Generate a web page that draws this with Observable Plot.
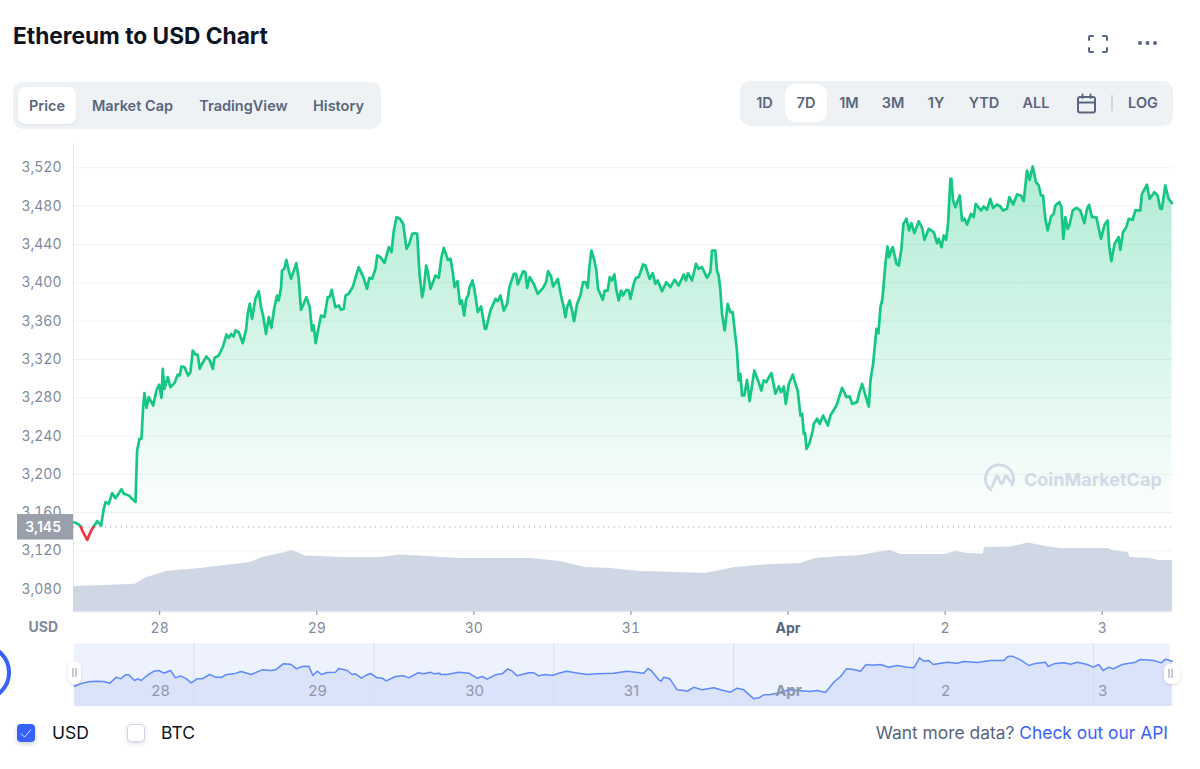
<!DOCTYPE html>
<html>
<head>
<meta charset="utf-8">
<script src="https://cdn.jsdelivr.net/npm/d3@7"></script>
<script src="https://cdn.jsdelivr.net/npm/@observablehq/plot@0.6"></script>
<style>
  html,body{margin:0;padding:0;background:#fff;font-family:Inter,"Noto Sans",sans-serif;}
  #page{position:relative;width:1200px;height:769px;overflow:hidden;}
  .abs{position:absolute;}
  .lbl{position:absolute;transform:translate(-50%,-50%);font-size:14.5px;font-weight:600;color:#58667e;white-space:nowrap;}
  svg{font-family:Inter,"Noto Sans",sans-serif;}
</style>
</head>
<body>
<div id="page"></div>
<script>
// ---------- data (hours after 27 Mar 2022 00:00 UTC) ----------
const priceHours = [10.88,11.64,12.0,12.15,12.92,13.53,13.87,14.44,15.05,15.46,15.72,16.22,16.73,17.24,18.16,18.51,19.28,20.3,20.55,20.91,21.21,21.47,21.67,21.98,22.33,23,23.5,23.91,24.27,24.47,24.72,25.23,25.64,26.25,26.76,27.07,27.32,27.78,28.34,28.7,29.05,29.46,29.81,30.12,30.48,31.14,31.65,32.11,32.36,33.02,33.68,34.19,34.55,34.91,35.31,35.57,36.08,36.69,37.2,37.45,37.76,38.11,38.62,39.13,39.49,39.79,40.25,40.66,41.06,41.52,41.93,42.18,42.54,42.69,43.05,43.35,43.71,44.07,44.88,45.24,45.59,46,46.41,46.92,47.27,47.53,47.83,48.29,48.65,49.16,49.67,49.97,50.28,50.84,51.35,51.7,52.11,52.41,52.87,53.53,53.89,54.4,54.75,55.16,55.67,56.03,
56.46,56.97,57.23,57.74,58.35,59.01,59.42,59.77,60.18,60.69,61.2,61.71,62.12,62.58,63.08,63.34,63.69,64.1,64.35,64.71,64.97,65.37,66.14,66.64,67.05,67.41,68.02,68.43,68.78,69.04,69.5,69.86,70.16,70.52,70.82,71.13,71.33,71.79,72.09,72.6,73.11,73.67,73.87,74.53,75.3,75.65,76.06,76.57,77.08,77.43,78.1,78.45,78.71,79.52,79.88,80.13,80.54,81.15,81.76,82.58,83.03,83.34,83.8,84.1,84.82,85.32,85.73,85.98,86.24,86.65,87,87.31,87.77,88.27,88.68,89.04,89.39,89.65,89.95,90.41,90.72,90.97,91.69,92,92.45,92.76,93.11,93.47,93.77,94.13,94.49,94.79,95.3,95.66,95.91,96.42,96.77,97.18,97.85,98.2,98.86,99.32,99.73,100.08,100.75,101.41,102.02,102.68,103.29,104.05,104.41,104.72,105.33,105.94,106.35,106.85,107.62,108.13,108.38,108.89,109.14,109.4,109.65,109.91,110.32,110.78,111.18,111.54,112,112.2,112.46,112.71,112.97,113.32,113.73,114.13,114.85,115.51,115.92,116.27,116.68,117.29,
117.47,118.08,118.59,118.95,119.36,119.66,120.12,120.73,120.98,121.49,121.9,122.16,122.41,122.61,122.82,123.28,123.78,123.94,124.45,124.85,125.36,126.08,126.48,127.4,128.26,128.93,129.43,129.79,130.55,130.91,131.32,131.83,132.34,132.59,133,133.51,133.81,134.12,134.42,134.88,135.19,135.44,135.75,136,136.56,136.92,137.32,137.63,138.09,138.49,138.85,139.31,139.97,140.48,140.84,141.5,142.26,142.77,143.03,143.43,143.79,144.15,144.45,144.81,144.96,145.21,145.57,146.23,146.59,146.94,147.35,147.96,148.37,148.67,149.49,149.9,150.4,150.91,151.32,151.93,152.44,152.85,153.46,153.82,154.38,154.99,155.6,156.01,156.51,156.92,157.38,157.89,158.3,158.65,158.96,159.31,159.67,160.18,160.59,160.84,161.45,161.76,162.06,162.37,162.72,162.98,163.49,164.05,164.66,165.27,165.68,165.98,166.44,167.1,167.81,168.37,168.83,169.08,169.39,169.9,170.51,170.77,171.17,171.68,172.04,172.65,173.06,173.82,174.07,174.84,175.24,175.96,176.47,176.87,177.13,177.64,178.15,178.66];
const prices = [3150.1,3147.6,3145,3141.4,3131.6,3141.4,3145,3151.1,3146.6,3164,3171,3169.2,3180.4,3175.1,3184.5,3179.7,3177.9,3171,3224.9,3237.1,3237.1,3270.1,3284.8,3269.4,3280.6,3271.9,3287.5,3293.5,3279.9,3310.2,3289.3,3301.5,3291,3295.2,3304.2,3303.2,3312.6,3311.9,3303.2,3306.7,3329.3,3325.1,3325.1,3310.2,3315.4,3323,3318.9,3310.2,3321.6,3324.1,3333.5,3346,3342.5,3346.7,3343.9,3350.2,3348.4,3337,3350.9,3367.6,3378,3362.4,3383.2,3391.2,3374.5,3365.8,3346.7,3364.1,3353,3374.5,3386.7,3381.5,3394.7,3412.8,3414.6,3424,3412.8,3404.1,3420.5,3404.1,3371.8,3378,3385,3374.5,3350.2,3355.4,3337,3353.7,3365.8,3364.1,3385,3385,3392.6,3374.5,3376.3,3371.8,3372.8,3386.7,3388.5,3396.1,3405.2,3416.3,3411.1,3405.2,3393.7,3405.2,
3404.1,3414.6,3428.5,3426.7,3420.8,3437.2,3432,3454.6,3468.5,3466.8,3461.5,3435.4,3440.7,3451.1,3451.8,3451.1,3409.3,3385,3393.7,3418,3411.1,3393.7,3407.6,3405.2,3426.7,3436.5,3423.9,3425,3411.1,3395.4,3401.7,3378,3381.5,3365.8,3383.2,3386.7,3394.7,3402.4,3392.6,3369.3,3375.2,3351.9,3351.9,3371,3383.2,3380.8,3386.7,3371,3378,3395.4,3409.3,3409.3,3398.2,3412.1,3411.1,3394.7,3405.9,3398.9,3388.5,3394.7,3400.6,3412.1,3406.6,3396.1,3404.1,3386.7,3374.5,3364.1,3374.5,3381.5,3371,3359.9,3378,3386.7,3400.6,3400.6,3394.7,3416.3,3433.7,3423.3,3412.8,3393.7,3382.2,3391.9,3391.9,3405.9,3402.4,3408.6,3392.6,3381.5,3391.9,3386.7,3392.6,3391.9,3383.2,3398.9,3405.2,3405.9,3419.1,3418,3404.1,3410,3398.9,3402.4,3391.2,3400.6,3395.4,3403.1,3397.2,3408.6,3402.4,3410,3402.4,3419.8,3414.6,3416.3,3405.2,3411.1,3433.7,3433.7,3412.8,3407.6,3393.7,3367.6,3350.2,3378,3369.3,3369.3,3341.5,3329.3,3298,3305,3282.3,3282.3,3298.7,3276.4,3308.4,3296.2,3287.5,3298,3296.2,3304.2,
3305.6,3284.1,3291.7,3285.8,3291.7,3273.6,3294.5,3304.2,3298,3286.8,3261.4,3263.2,3242.3,3243,3226.6,3232.6,3245.8,3252.7,3258,3252.7,3261.4,3251,3261.4,3271.9,3290.3,3280.6,3281.3,3273.6,3275.4,3285.8,3294.5,3282.3,3270.8,3298,3315.4,3351.9,3347.4,3374.5,3383.2,3419.8,3437.9,3426.7,3433.7,3437.2,3419.8,3418,3435.4,3461.5,3466.8,3454.6,3462.2,3451.8,3464.3,3457.4,3444.8,3456.3,3452.8,3441.4,3445.9,3437.2,3449.4,3444.8,3461.5,3508.5,3508.5,3485.9,3478.9,3491.1,3465,3466.8,3460.8,3472,3468.5,3482.4,3475.5,3479.6,3476.2,3487.6,3478.2,3481.7,3479.6,3475.5,3477.2,3489.4,3481.7,3492.2,3491.1,3485.2,3517.2,3507.5,3521.4,3505,3501.6,3491.1,3491.1,3466.8,3454.6,3469.2,3472,3480.7,3484.2,3479.6,3445.9,3468.5,3456.3,3459.8,3475.5,3478.2,3475.5,3462.2,3477.2,3481.4,3468.5,3468.5,3445.9,3460.8,3465,3437.2,3422.6,3440.7,3447.6,3434.4,3452.8,3458,3466.8,3465.7,3475.5,3475.5,3492.9,3502.3,3487.6,3494.6,3491.1,3477.2,3477.2,3501.6,3487.6,3483.1];
const volumeHours = [10.83,15.41,20.3,21.83,25.19,30.23,37.87,39.71,43.22,44.29,46.28,48.57,51.62,57.74,60.79,62.32,69.96,76.07,80.65,85.23,89.05,92.87,97.46,103.57,107.39,111.97,117.32,121.9,124.19,128.01,131.07,134.43,135.65,137.18,144.05,145.58,147.57,149.86,150.01,153.99,156.74,159.33,161.62,168.96,169.57,172,172.3,175.36,176.58,178.74];
const volumesBn = [10,10.4,10.9,13.4,16.1,17.2,19.6,21.6,23.6,24.4,22.2,22,21.6,21.6,22.6,22.4,21.2,21.2,21.2,20,17.6,17.2,16,15.6,15.2,17.6,18.8,19.2,21.2,22,22.4,24,24.4,22.8,22.8,24,23.2,23,25.6,25.8,27.4,26,25.2,25.2,24.4,23.6,21.6,21.2,20.4,20.4];
const navHours = [10.85,11.77,13.04,14.32,15.33,16.25,17.27,17.88,18.65,19.16,20.02,20.53,21.04,21.96,22.98,23.74,24.51,25.53,26.29,27.06,27.97,28.69,29.6,30.37,31.49,32.41,33.43,33.93,35.21,36.33,37.86,39.54,40.81,41.58,42.75,43.87,44.79,45.65,46.68,47.29,47.95,48.61,49.48,50.75,51.26,52.54,53.3,53.81,54.73,55.34,56.1,57.12,57.89,58.5,59.92,61.2,61.96,63.34,64.26,65.28,65.79,66.7,
66.8,67.82,69.6,71.13,72.4,73.17,73.93,75.2,76.23,77.09,77.76,78.52,80.3,81.07,81.83,82.85,83.87,84.89,86.06,87.44,89.22,90.75,93.3,95.34,97.88,98.5,99.01,100.18,100.54,100.94,101.86,102.98,104,104.61,105.53,106.8,108.59,109.6,111.13,112.15,113.17,114.7,115.47,116.23,117.25,118.27,120.05,121.33,
123.36,124.38,125.65,126.93,127.95,128.86,129.98,131,131.87,132.79,134.06,135.33,136.61,138.14,139.16,139.67,140.02,140.69,141.45,142.11,144.25,145.78,146.8,148.84,150.88,152.92,153.53,154.19,155.46,156.74,157.5,159.29,159.69,160.56,162.09,163.11,164.13,165.66,166.57,167.44,168.1,168.97,169.63,171.01,173.04,173.81,175.85,176.97,177.63,178.65];
const navPrices = [3101.6,3113.3,3123.3,3126.6,3125,3116.6,3146.6,3138.3,3158.3,3158.3,3130,3138.3,3130,3155,3176.6,3180,3166.6,3180,3143.3,3153.3,3138.3,3118.3,3138.3,3138.3,3160,3146.6,3146.6,3158.3,3163.3,3175,3160,3183.3,3180,3183.3,3213.3,3211.6,3188.3,3200,3201.6,3155,3176.6,3160,3170,3171.6,3190,3180,3160,3163.3,3141.6,3155,3165,3143.3,3141.6,3128.3,3150,3153.3,3143.3,3168.3,3163.3,3171.6,3163.3,3166.6,
3160,3160,3171.6,3166.6,3141.6,3150,3136.6,3158.3,3163.3,3188.3,3176.6,3153.3,3168.3,3168.3,3153.3,3160,3155,3166.6,3176.6,3168.3,3160,3163.3,3166.6,3176.6,3166.6,3190,3180,3133.3,3126.6,3146.6,3138.3,3083.3,3080,3076.6,3096.6,3083.3,3093.3,3083.3,3071.6,3091.6,3083.3,3038.3,3043.3,3058.3,3060,3066.6,3083.3,3080,
3075,3080,3070,3121.6,3150,3188.3,3185,3176.6,3210,3206.6,3210,3196.6,3205,3196.6,3193.3,3221.6,3243.3,3226.6,3230,3210,3221.6,3216.6,3225,3220,3230,3230,3250,3251.6,3233.3,3205,3213.3,3221.6,3200,3213.3,3218.3,3211.6,3221.6,3210,3196.6,3210,3180,3196.6,3188.3,3210,3221.6,3235,3230,3218.3,3236.6,3226.6];
const navGridHours = [29.12,56.62,84.12,111.62,139.12,166.62];
const yTicks = [3080,3120,3160,3200,3240,3280,3320,3360,3400,3440,3480,3520];
const dayHours = [24,48,72,96,120,144,168];
const dayLabels = ["28","29","30","31","Apr","2","3"];
const openPrice = 3145;
const tabs = ["Price","Market Cap","TradingView","History"];
const ranges = ["1D","7D","1M","3M","1Y","YTD","ALL"];

// ---------- helpers ----------
const T0 = Date.UTC(2022,2,27);
const t = h => new Date(T0 + h*36e5);
const priceRows = priceHours.map((h,i)=>({date:t(h),price:prices[i]}));
const priceMin = 3056.8, priceMax = 3545.4, pricePerBn = 2.61;
const volumeRows = volumeHours.map((h,i)=>({date:t(h),v:priceMin + volumesBn[i]*pricePerBn}));
const navRows = navHours.map((h,i)=>({date:t(h),price:navPrices[i]}));
const xDomain = [t(10.83),t(178.74)];
const axisColor = "#808a9d";
const comma = d3.format(",");

const page = document.getElementById("page");
function place(html){const d=document.createElement("div");d.innerHTML=html;while(d.firstChild)page.appendChild(d.firstChild);}

// ---------- main chart ----------
const gradientDefs = () => {
  const defs = d3.create("svg:defs");
  const g = defs.append("linearGradient").attr("id","priceFill").attr("x1",0).attr("x2",0).attr("y1",0).attr("y2",1);
  g.append("stop").attr("offset","0%").attr("stop-color","#16c784").attr("stop-opacity",0.34);
  g.append("stop").attr("offset","100%").attr("stop-color","#16c784").attr("stop-opacity",0.0);
  return defs.node();
};
const priceBadge = (index, {y}) => {
  const g = d3.create("svg:g");
  const yy = y(openPrice);
  g.append("rect").attr("x",17).attr("y",yy-12.5).attr("width",56).attr("height",25.5).attr("fill","#9aa0ab");
  g.append("text").attr("x",61).attr("y",yy+0.5).attr("dy","0.35em").attr("text-anchor","end")
    .attr("fill","#fff").attr("font-size",14).attr("font-weight",600).text(comma(openPrice));
  g.append("text").attr("x",58).attr("y",y(priceMin)+16).attr("dy","0.35em").attr("text-anchor","end")
    .attr("fill",axisColor).attr("font-size",14).attr("font-weight",700).text("USD");
  return g.node();
};
const dayTicks = dayHours.map(t);
const labelOf = d => dayLabels[dayHours.indexOf((+d-T0)/36e5)];
const aprTick = dayTicks.filter(d => labelOf(d)==="Apr");
const plainTicks = dayTicks.filter(d => labelOf(d)!=="Apr");

const main = Plot.plot({
  width:1200, height:500,
  marginLeft:73, marginRight:28, marginTop:3, marginBottom:29,
  style:{background:"transparent",fontFamily:"Inter, sans-serif"},
  x:{type:"utc",domain:xDomain,axis:null},
  y:{domain:[priceMin,priceMax],axis:null},
  marks:[
    gradientDefs,
    Plot.ruleY(yTicks,{stroke:"#eff2f5",strokeWidth:1}),
    Plot.ruleX([xDomain[0]],{stroke:"#e6eaf0",strokeWidth:1}),
    Plot.axisY(yTicks,{anchor:"left",tickSize:0,tickPadding:12,tickFormat:comma,fontSize:14,fill:axisColor,label:null}),
    Plot.ruleY([openPrice],{stroke:"#8f96a3",strokeWidth:1,strokeDasharray:"1 4.3"}),
    Plot.areaY(priceRows,{x:"date",y1:openPrice,y2:d=>Math.max(d.price,openPrice),fill:"url(#priceFill)"}),
    Plot.areaY(volumeRows,{x:"date",y1:priceMin,y2:"v",fill:"#cfd6e4"}),
    Plot.ruleY([priceMin],{stroke:"#e3e7ee",strokeWidth:1.5}),
    Plot.axisX(plainTicks,{anchor:"bottom",tickSize:4,tickPadding:8,stroke:axisColor,fill:axisColor,fontSize:14,tickFormat:labelOf,label:null}),
    Plot.axisX(aprTick,{anchor:"bottom",tickSize:4,tickPadding:8,stroke:axisColor,fill:"#58667e",fontSize:14,fontWeight:700,tickFormat:labelOf,label:null}),
    Plot.line(priceRows,{x:"date",y:d=>d.price>=openPrice?d.price:NaN,stroke:"#16c784",strokeWidth:2.7,strokeLinejoin:"round"}),
    Plot.line(priceRows,{x:"date",y:d=>d.price<=openPrice?d.price:NaN,stroke:"#ea3943",strokeWidth:2.7,strokeLinejoin:"round"}),
    priceBadge
  ]
});
main.style.cssText += ";position:absolute;left:0;top:140px;";
page.appendChild(main);

// ---------- navigator ----------
const navMin = 3000, navMax = 3313.5, navLabelLevel = 3075, navBgEnd = t(178.39);
const navDomain = [t(10.85),t(178.7)];
const nav = Plot.plot({
  width:1200, height:70,
  marginLeft:74, marginRight:28, marginTop:3.3, marginBottom:4,
  style:{background:"transparent",fontFamily:"Inter, sans-serif"},
  x:{type:"utc",domain:navDomain,axis:null},
  y:{domain:[navMin,navMax],axis:null},
  marks:[
    Plot.rect([0],{x1:navDomain[0],x2:navBgEnd,y1:navMin,y2:navMax,fill:"#eef2fe"}),
    Plot.areaY(navRows,{x:"date",y1:navMin,y2:"price",fill:"#dbe3fb"}),
    Plot.ruleX(navGridHours.map(t),{stroke:"#d5ddf5",strokeWidth:1,y1:navMin,y2:navMax}),
    Plot.line(navRows,{x:"date",y:"price",stroke:"#5f88fb",strokeWidth:1.5}),
    Plot.text(plainTicks,{x:d=>d,y:navLabelLevel,text:labelOf,fontSize:15,fill:"#8f97ad"}),
    Plot.text(aprTick,{x:d=>d,y:navLabelLevel,text:labelOf,fontSize:15,fontWeight:700,fill:"#8f97ad"})
  ]
});
nav.style.cssText += ";position:absolute;left:0;top:640px;";
page.appendChild(nav);

// ---------- page furniture ----------
place(`<div class="abs" style="left:13px;top:21px;font-size:22.7px;font-weight:700;color:#0d1421;line-height:30px;white-space:nowrap">Ethereum to USD Chart</div>`);
// tabs
place(`<div class="abs" style="left:13px;top:82px;width:368px;height:47px;background:#eff2f5;border-radius:10px"></div>
<div class="abs" style="left:18px;top:87px;width:58px;height:37px;background:#fff;border-radius:8px;box-shadow:0 1px 2px rgba(88,102,126,.12)"></div>
<div class="abs" style="left:740px;top:81px;width:433px;height:45px;background:#eff2f5;border-radius:10px"></div>
<div class="abs" style="left:785px;top:84px;width:42px;height:38px;background:#fff;border-radius:10px"></div>`);
[47,132.5,243.5,338.5].forEach((x,i)=>place(`<div class="lbl" style="left:${x}px;top:105px">${tabs[i]}</div>`));
[764.5,806,849,893,936,984,1036].forEach((x,i)=>place(`<div class="lbl" style="left:${x}px;top:102px">${ranges[i]}</div>`));
place(`<div class="lbl" style="left:1143px;top:102px">LOG</div>
<div class="abs" style="left:1111px;top:95px;width:2px;height:16px;background:#cfd6e4"></div>
<svg class="abs" style="left:1076px;top:93px" width="22" height="22" viewBox="0 0 22 22" fill="none" stroke="#58667e" stroke-width="2" stroke-linecap="round">
  <rect x="2" y="4" width="17" height="15.5" rx="2"/><path d="M2 9.5H19M6.5 1.5V5M14.5 1.5V5"/></svg>
<svg class="abs" style="left:1086px;top:33px" width="24" height="22" viewBox="0 0 24 22" fill="none" stroke="#58667e" stroke-width="2" stroke-linecap="round">
  <path d="M3 7V4Q3 3 4 3H7M17 3H20Q21 3 21 4V7M21 15V18Q21 19 20 19H17M7 19H4Q3 19 3 18V15"/></svg>
<svg class="abs" style="left:1136px;top:38px" width="24" height="10" fill="#58667e"><circle cx="4" cy="5" r="2"/><circle cx="11.5" cy="5" r="2"/><circle cx="19" cy="5" r="2"/></svg>`);
// watermark
place(`<svg class="abs" style="left:984px;top:463px" width="32" height="32" viewBox="0 0 32 32" fill="none" stroke="#d3d9e6" stroke-width="2.8" stroke-linecap="round" stroke-linejoin="round">
  <path d="M28 22A14 14 0 1 0 7 27"/><path d="M8 24L12 14Q13 12 14 14L16.5 20Q17.5 22 18.5 20L21 14Q22 12 23.5 14L26 18Q28 20 30 17"/></svg>
<div class="abs" style="left:1024px;top:467px;font-size:18px;font-weight:700;color:#d3d9e6;line-height:26px;white-space:nowrap">CoinMarketCap</div>`);
// navigator handles and blue arc
place(`<div class="abs" style="left:68px;top:661px;width:13px;height:23px;background:#fff;border-radius:6px;box-shadow:0 1px 3px rgba(88,102,126,.25)"></div>
<div class="abs" style="left:72px;top:668px;width:1.5px;height:9px;background:#c4cad6"></div>
<div class="abs" style="left:75px;top:668px;width:1.5px;height:9px;background:#c4cad6"></div>
<div class="abs" style="left:1164px;top:664px;width:16px;height:20px;background:#fff;border-radius:6px;box-shadow:0 1px 3px rgba(88,102,126,.25)"></div>
<div class="abs" style="left:1168px;top:669px;width:1.5px;height:9px;background:#c4cad6"></div>
<div class="abs" style="left:1171px;top:669px;width:1.5px;height:9px;background:#c4cad6"></div>
<div class="abs" style="left:-46px;top:644px;width:56.5px;height:56.5px;box-sizing:border-box;border:4.5px solid #3861fb;border-radius:50%"></div>`);
// legend
place(`<div class="abs" style="left:17px;top:724px;width:18px;height:18px;background:#3861fb;border-radius:4px;box-shadow:0 2px 4px rgba(88,102,126,.3)">
  <svg width="18" height="18" fill="none" stroke="#fff" stroke-width="0.8"><path d="M4 9.5L7.5 13L14 5.5"/></svg></div>
<div class="abs" style="left:52px;top:721px;font-size:17.5px;color:#0d1421;line-height:24px">USD</div>
<div class="abs" style="left:127px;top:724px;width:18px;height:18px;box-sizing:border-box;background:#fff;border:1px solid #cfd6e4;border-radius:4px;box-shadow:0 2px 4px rgba(88,102,126,.2)"></div>
<div class="abs" style="left:161px;top:721px;font-size:17.5px;color:#0d1421;line-height:24px">BTC</div>
<div class="abs" style="right:32px;top:721px;font-size:17.4px;color:#58667e;line-height:24px;white-space:nowrap">Want more data? <span style="color:#3861fb">Check out our API</span></div>`);
</script>
</body>
</html>
